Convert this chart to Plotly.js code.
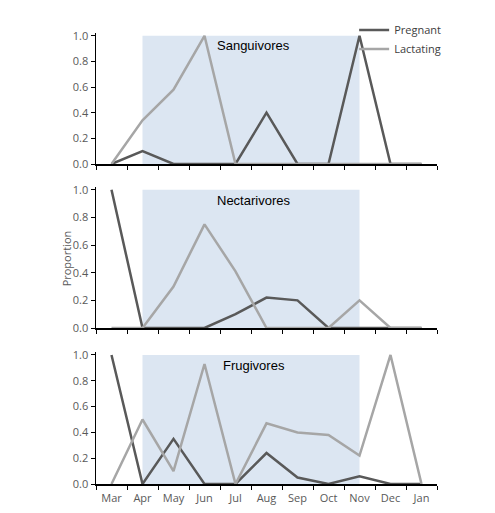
<!DOCTYPE html>
<html><head><meta charset="utf-8">
<script src="https://cdn.plot.ly/plotly-3.0.1.min.js"></script>
<style>html,body{margin:0;padding:0;background:#fff}#c{width:495px;height:513px}</style>
</head><body><div id="c"></div>
<script>
var months = ['Mar','Apr','May','Jun','Jul','Aug','Sep','Oct','Nov','Dec','Jan'];
var groups = ['Sanguivores','Nectarivores','Frugivores'];
var sangPregnant  = [0, 0.1, 0, 0, 0, 0.4, 0, 0, 1.0, 0, 0];
var sangLactating = [0, 0.34, 0.58, 1.0, 0, 0, 0, 0, 0, 0, 0];
var nectPregnant  = [1.0, 0, 0, 0, 0.1, 0.22, 0.2, 0, 0, 0, 0];
var nectLactating = [0, 0, 0.3, 0.75, 0.41, 0, 0, 0, 0.2, 0, 0];
var frugPregnant  = [1.0, 0, 0.35, 0, 0, 0.24, 0.05, 0, 0.06, 0, 0];
var frugLactating = [0, 0.5, 0.1, 0.93, 0, 0.47, 0.4, 0.38, 0.22, 1.0, 0];
var yTicks = [0, 0.2, 0.4, 0.6, 0.8, 1.0];
var shadeStart = 'Apr', shadeEnd = 'Nov';

var pregColor = '#595959', lactColor = '#a6a6a6';
var series = [[sangPregnant, sangLactating],[nectPregnant, nectLactating],[frugPregnant, frugLactating]];
var traces = [];
series.forEach(function(s, i){
  var xa = i === 0 ? 'x' : 'x' + (i+1), ya = i === 0 ? 'y' : 'y' + (i+1);
  traces.push({x: months, y: s[0], xaxis: xa, yaxis: ya, type: 'scatter', mode: 'lines', name: 'Pregnant',
    legendgroup: 'p', showlegend: i === 0, line: {color: pregColor, width: 2.5}});
  traces.push({x: months, y: s[1], xaxis: xa, yaxis: ya, type: 'scatter', mode: 'lines', name: 'Lactating',
    legendgroup: 'l', showlegend: i === 0, line: {color: lactColor, width: 2.5}});
});

var tickFont = {family: 'Open Sans, Liberation Sans, sans-serif', size: 11, color: '#595959'};
var H = 513;
var doms = [[164, 33.2], [328, 187], [484, 352.4]];
var titleY = [45, 200.5, 365];
var layout = {
  width: 495, height: 513,
  margin: {l: 96, r: 58, t: 0, b: 0},
  paper_bgcolor: '#fff', plot_bgcolor: '#fff',
  showlegend: true,
  legend: {x: 0.757, y: 0.97, xanchor: 'left', yanchor: 'top', font: {family: 'Open Sans, sans-serif', size: 11, color: '#404040'},
    bgcolor: 'rgba(0,0,0,0)', tracegroupgap: 0, itemwidth: 30},
  shapes: [], annotations: []
};
doms.forEach(function(d, i){
  var sx = i === 0 ? '' : String(i+1);
  layout['xaxis' + sx] = {type: 'category', domain: [0, 1], anchor: 'y' + sx, range: [-0.5, 10.5],
    tickson: 'boundaries', ticks: 'outside', ticklen: 4, tickcolor: '#000', showline: true, linecolor: '#000',
    linewidth: 1.5, showgrid: false, zeroline: false, showticklabels: i === 2, tickangle: 0, ticklabelstandoff: 3,
    tickfont: tickFont, fixedrange: true};
  layout['yaxis' + sx] = {domain: [1 - d[0]/H, 1 - d[1]/H], anchor: 'x' + sx, range: [0, 1.02],
    tickvals: yTicks, ticktext: yTicks.map(function(v){return v.toFixed(1);}), ticks: 'outside', ticklen: 4,
    tickcolor: '#000', showline: true, linecolor: '#000', linewidth: 1.5, showgrid: false, zeroline: false,
    tickfont: tickFont, fixedrange: true};
  layout.shapes.push({type: 'rect', xref: 'x' + sx, yref: 'y' + sx, x0: months.indexOf(shadeStart), x1: months.indexOf(shadeEnd),
    y0: 0, y1: 1, fillcolor: '#dce6f2', line: {width: 0}, layer: 'below'});
  layout.annotations.push({text: groups[i], xref: 'paper', yref: 'paper', x: 0.462, y: 1 - titleY[i]/H,
    xanchor: 'center', yanchor: 'middle', showarrow: false, font: {family: 'Liberation Sans, Arial, sans-serif', size: 13, color: '#000'}});
});
layout.annotations.push({text: 'Proportion', xref: 'paper', yref: 'paper', x: -0.087, y: 0.497, textangle: -90,
  xanchor: 'center', yanchor: 'middle', showarrow: false, font: {family: 'Open Sans, sans-serif', size: 11, color: '#595959'}});
Plotly.newPlot('c', traces, layout, {displayModeBar: false, staticPlot: true});
</script></body></html>
